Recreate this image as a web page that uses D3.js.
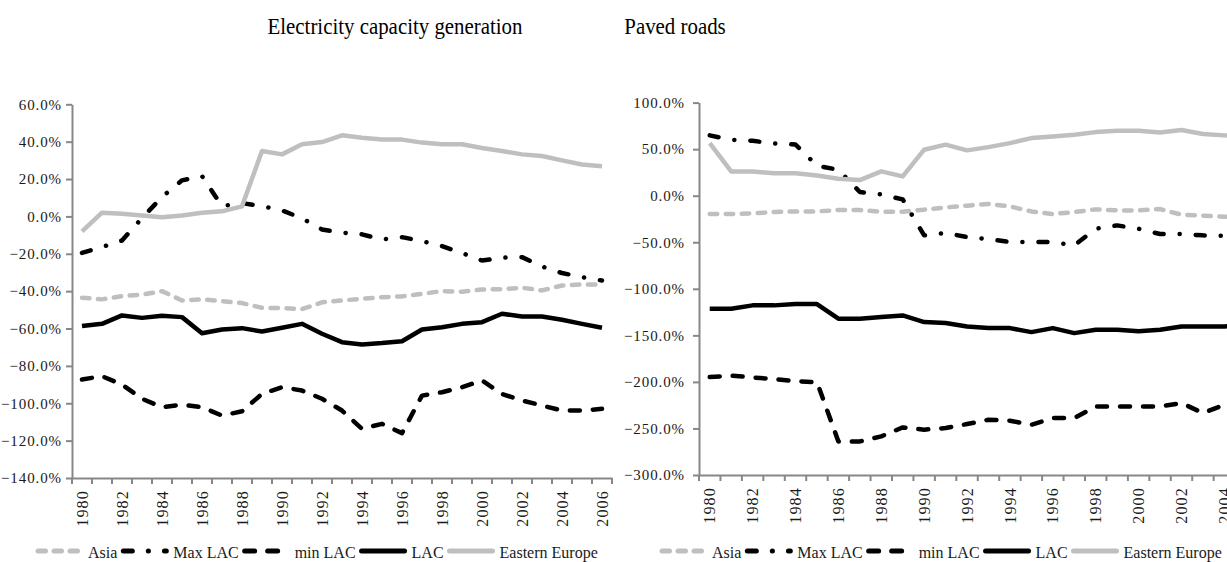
<!DOCTYPE html>
<html>
<head>
<meta charset="utf-8">
<script src="https://cdn.jsdelivr.net/npm/d3@7"></script>
<style>
  body { margin: 0; background: #fff; }
  svg { display: block; font-family: "Liberation Serif", serif; }
</style>
</head>
<body>
<svg width="1227" height="562"></svg>
<script>

var years = [1980, 1981, 1982, 1983, 1984, 1985, 1986, 1987, 1988, 1989, 1990, 1991, 1992,
  1993, 1994, 1995, 1996, 1997, 1998, 1999, 2000, 2001, 2002, 2003, 2004, 2005, 2006];

var seriesNames = ["Asia", "Max LAC", "min LAC", "LAC", "Eastern Europe"];

// electricity capacity generation (% gap)
var elecAsia = [-43.5, -44.4, -42.7, -41.8, -40, -45, -44.4, -45.3, -46.4, -48.9, -49.1, -49.6, -46,
  -45, -44.1, -43.2, -42.8, -41.4, -40, -40.3, -39.1, -38.9, -38.2, -39.6, -37, -36.4, -36.4];
var elecMaxLAC = [-19.5, -16.4, -12.9, -0.9, 10.4, 19.3, 21.6, 5.5, 7.1, 5.5, 3.2, -1, -7,
  -8.7, -9.6, -12.3, -11.1, -13.2, -15.9, -19.6, -23.6, -22.1, -21.8, -26.8, -30.3, -32.5, -34.3];
var elecMinLAC = [-87.3, -85.5, -90, -97.6, -102.1, -100.7, -102.1, -106.6, -104.3, -95, -91.4, -93.2, -97.6,
  -103.9, -113.7, -111, -116, -95.9, -94.1, -91.4, -87.8, -95, -98.5, -101.2, -103.9, -103.9, -103];
var elecLAC = [-58.7, -57.5, -53, -54.3, -53.2, -53.9, -62.5, -60.5, -59.8, -61.6, -59.6, -57.5, -62.8,
  -67.3, -68.5, -67.8, -66.8, -60.5, -59.3, -57.5, -56.6, -52.1, -53.6, -53.6, -55.3, -57.5, -59.6];
var elecEastEurope = [-8, 2, 1.4, 0.5, -0.4, 0.5, 2, 2.7, 5.4, 35, 33.2, 38.6, 39.8,
  43.4, 42.1, 41.2, 41.1, 39.5, 38.6, 38.6, 36.6, 35, 33.2, 32.3, 30, 27.8, 26.8];

// paved roads (% gap)
var roadsAsia = [-19.7, -19.7, -19, -17.6, -16.9, -16.9, -15.4, -15.4, -17.2, -17.2, -15, -12.6, -10.7,
  -9, -11.5, -16.9, -19.7, -17.6, -14.7, -15.8, -15.8, -14.4, -20.4, -21.5, -22.6, -23, -23];
var roadsMaxLAC = [64.8, 60.1, 59, 56, 55, 32.2, 27.9, 4, 1.5, -4, -42.6, -40.1, -44.4,
  -46.6, -49.8, -49.8, -49.8, -53.4, -35.5, -31.9, -35.5, -41.2, -41.2, -42.6, -43, -43, -44];
var roadsMinLAC = [-194.8, -193.3, -195.2, -197, -199.4, -200.2, -263.9, -263.9, -258.5, -248.9, -251.3, -249.6, -245.3,
  -240.6, -241.7, -246, -238.9, -238.9, -226.3, -226.3, -226.3, -226.3, -222.7, -233.5, -224.5, -224, -224];
var roadsLAC = [-121.4, -121.4, -117.8, -117.8, -116.4, -116.4, -132.1, -132.1, -130.4, -128.6, -135.7, -136.8, -140.4,
  -142.2, -142.2, -146.5, -142.2, -147.6, -144, -144, -145.7, -144, -140.4, -140.4, -140.4, -140, -140];
var roadsEastEurope = [56.5, 26.1, 26.1, 24, 24, 21.8, 18.3, 16.8, 26.1, 20.7, 49.4, 54.8, 48.7,
  52.2, 56.5, 61.9, 63.7, 65.5, 68.3, 69.8, 69.8, 68, 70.5, 66.2, 64.8, 63, 62];

var elecTicks = [60, 40, 20, 0, -20, -40, -60, -80, -100, -120, -140];
var roadsTicks = [100, 50, 0, -50, -100, -150, -200, -250, -300];

var styles = {
  "Asia":           { color: "#bfbfbf", dash: "7.5,8.5" },
  "Max LAC":        { color: "#000000", dash: "9,16,0.1,16" },
  "min LAC":        { color: "#000000", dash: "10,13" },
  "LAC":            { color: "#000000", dash: null },
  "Eastern Europe": { color: "#bfbfbf", dash: null }
};

var svg = d3.select("svg");
var fmt = d3.format(".1f");
var axisGrey = "#878787";

function drawPanel(opt){

  var x = d3.scaleBand().domain(years).range([opt.x0, opt.x1]);
  var y = d3.scaleLinear().domain(opt.domain).range([opt.yBottom, opt.yTop]);

  var g = svg.append("g");

  // y axis
  var yAxis = g.append("g")
      .attr("transform", "translate(" + opt.x0 + ",0)")
      .call(d3.axisLeft(y).tickValues(opt.ticks).tickSize(6).tickSizeOuter(0).tickPadding(opt.pad)
        .tickFormat(function(d){ return fmt(d) + "%"; }));
  yAxis.attr("font-family", "Liberation Serif").attr("font-size", 15);
  yAxis.select(".domain").attr("stroke", axisGrey).attr("stroke-width", 2);
  yAxis.selectAll(".tick line").attr("stroke", axisGrey).attr("stroke-width", 2);
  yAxis.selectAll("text")
      .attr("fill", "#1a1a1a")
      .style("letter-spacing", "0.9px");

  // x axis line, ticks sit on category boundaries
  var xAxis = g.append("g")
      .attr("transform", "translate(0," + opt.yBottom + ")")
      .call(d3.axisBottom(x).tickSize(0).tickSizeOuter(0).tickFormat(""));
  xAxis.attr("font-family", "Liberation Serif");
  xAxis.select(".domain").attr("stroke", axisGrey).attr("stroke-width", 2);

  xAxis.selectAll(".bound")
      .data(years.concat([null]))
    .enter().append("line")
      .attr("class", "bound")
      .attr("x1", function(d){ return d === null ? x.range()[1] : x(d); })
      .attr("x2", function(d){ return d === null ? x.range()[1] : x(d); })
      .attr("y1", 0)
      .attr("y2", 6)
      .attr("stroke", axisGrey)
      .attr("stroke-width", 2);

  xAxis.selectAll(".yr")
      .data(years.filter(function(d){ return d % 2 === 0; }))
    .enter().append("text")
      .attr("class", "yr")
      .attr("transform", function(d){
        return "translate(" + (x(d) + x.bandwidth() / 2) + ",12) rotate(-90)";
      })
      .attr("dy", "0.35em")
      .attr("text-anchor", "end")
      .attr("fill", "#1a1a1a")
      .style("font-size", "16px")
      .style("letter-spacing", "1.2px")
      .text(function(d){ return d; });

  // lines
  var line = d3.line()
      .x(function(d, i){ return x(years[i]) + x.bandwidth() / 2; })
      .y(function(d){ return y(d); });

  seriesNames.forEach(function(name, k){
    g.append("path")
        .datum(opt.series[k])
        .attr("fill", "none")
        .attr("stroke", styles[name].color)
        .attr("stroke-width", 4.5)
        .attr("stroke-linecap", styles[name].dash ? "round" : "butt")
        .attr("stroke-linejoin", "round")
        .attr("stroke-dasharray", styles[name].dash)
        .attr("d", line);
  });

  // title (condensed a bit like the original face)
  svg.append("text")
      .attr("transform", "translate(" + opt.titleX + ",34) scale(0.87,1)")
      .attr("text-anchor", "middle")
      .style("font-size", "24px")
      .attr("fill", "#000")
      .text(opt.title);

  // legend
  var lg = svg.append("g").attr("transform", "translate(" + opt.legendX + ",551)");
  var cx = 0;
  seriesNames.forEach(function(name){
    lg.append("line")
        .attr("x1", cx + 2)
        .attr("x2", cx + 45)
        .attr("y1", 0)
        .attr("y2", 0)
        .attr("stroke", styles[name].color)
        .attr("stroke-width", 5)
        .attr("stroke-linecap", "round")
        .attr("stroke-dasharray", styles[name].dash);
    var t = lg.append("text")
        .attr("x", cx + 52)
        .attr("y", 7)
        .style("font-size", "16px")
        .attr("fill", "#1a1a1a")
        .text(name);
    cx += 52 + t.node().getComputedTextLength() + 4;
  });
}

drawPanel({
  title: "Electricity capacity generation", titleX: 395,
  x0: 72, x1: 612, yTop: 104.3, yBottom: 478, pad: 4,
  domain: [-140, 60], ticks: elecTicks,
  series: [elecAsia, elecMaxLAC, elecMinLAC, elecLAC, elecEastEurope],
  legendX: 36
});

drawPanel({
  title: "Paved roads", titleX: 675,
  x0: 699, x1: 1278, yTop: 102.6, yBottom: 475, pad: 8,
  domain: [-300, 100], ticks: roadsTicks,
  series: [roadsAsia, roadsMaxLAC, roadsMinLAC, roadsLAC, roadsEastEurope],
  legendX: 660
});

</script>
</body>
</html>
